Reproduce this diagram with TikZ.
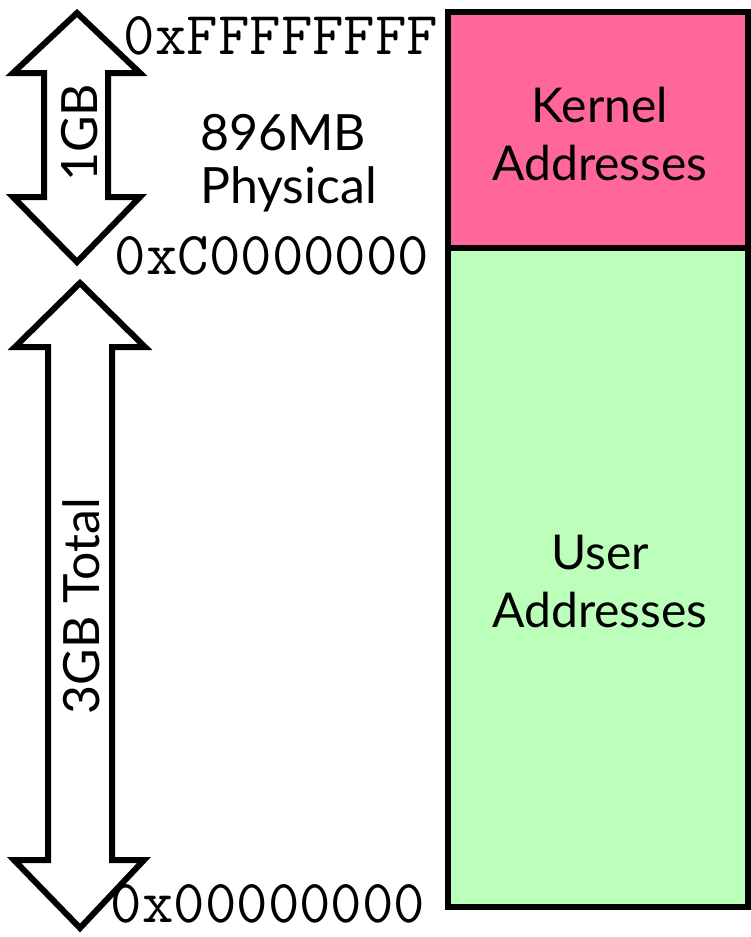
\documentclass[tikz,border=0pt]{standalone}
\usepackage{fontspec}
\setmainfont{Lato}
\definecolor{kernelpink}{RGB}{255,102,153}
\definecolor{usergreen}{RGB}{187,255,187}
\begin{document}
\begin{tikzpicture}[x=1pt,y=-1pt,
  blockarrow/.style={draw=black,line width=6pt,fill=white,line join=miter},
  region/.style={draw=black,line width=6.5pt},
  addr/.style={font=\fontsize{61}{61}\selectfont\ttfamily,inner sep=0pt,anchor=base},
  label/.style={font=\fontsize{48}{58}\selectfont,inner sep=0pt,align=center},
  side/.style={font=\fontsize{50}{50}\selectfont,inner sep=0pt,anchor=base,rotate=90},
  note/.style={font=\fontsize{50}{53}\selectfont,inner sep=0pt,anchor=base west}]
\useasboundingbox (0,0) rectangle (751,937);

% memory regions
\filldraw[region,fill=kernelpink] (448,12) rectangle (748,248);
\filldraw[region,fill=usergreen] (448,248) rectangle (748,907);
\node[label] (kernel) at (600,134) {Kernel\\Addresses};
\node[label] (user) at (600,581) {User\\Addresses};

% 1GB double arrow
\draw[blockarrow] (77,13) -- (140,73) -- (108,73) -- (108,197) -- (140,197)
  -- (77,262) -- (13,197) -- (44,197) -- (44,73) -- (13,73) -- cycle;
\node[side] (onegb) at (97,133) {1GB};

% 3GB double arrow
\draw[blockarrow] (80,283) -- (145,347) -- (112,347) -- (112,860) -- (144,860)
  -- (80,928) -- (14,860) -- (48,860) -- (48,347) -- (15,347) -- cycle;
\node[side] (threegb) at (99,606) {3GB Total};

% address labels
\node[addr] (top) at (281,54) {0xFFFFFFFF};
\node[addr] (mid) at (272,274) {0xC0000000};
\node[addr] (low) at (268,922) {0x00000000};

% physical size note
\node[note] (mb) at (200,150) {896MB};
\node[note] (phys) at (200,203) {Physical};
\end{tikzpicture}
\end{document}
